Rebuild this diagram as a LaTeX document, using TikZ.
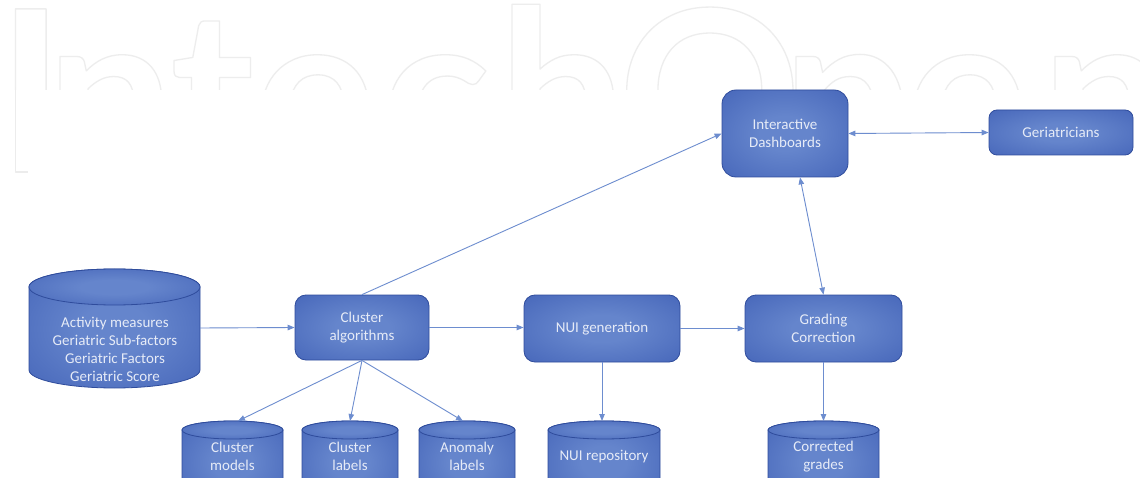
\documentclass[tikz,border=0pt]{standalone}
\usepackage{fontspec}
\setmainfont{Carlito}
\newfontfamily\wmfont{Lato}
\usetikzlibrary{arrows.meta}
\definecolor{boxlight}{HTML}{6585CC}
\definecolor{boxdark}{HTML}{3D5DB4}
\definecolor{boxline}{HTML}{2F4C9C}
\definecolor{linkcol}{HTML}{6D8DCF}
\definecolor{txtcol}{HTML}{E6EBF7}
\definecolor{wmgray}{HTML}{ECECEC}
\pgfdeclareradialshading{boxshade}{\pgfpoint{0bp}{0bp}}{color(0bp)=(boxlight); color(10bp)=(boxlight); color(45bp)=(boxdark); color(100bp)=(boxdark)}
\newcommand\wmout[1]{\special{pdf:literal direct 1 Tr 0.93 G 1.3 w 1 j}#1\special{pdf:literal direct 0 Tr}}
\newcommand\drawcyl[5]{%
  \shade[shading=boxshade, draw=boxline, line width=0.8pt]
    (#1-#2,#3) -- (#1-#2,#4) arc[start angle=180,end angle=0,x radius=#2,y radius=#5]
    -- (#1+#2,#3) arc[start angle=0,end angle=-180,x radius=#2,y radius=#5] -- cycle;
  \shade[shading=boxshade, draw=boxline, line width=0.8pt] (#1,#3) ellipse[x radius=#2, y radius=#5];
}
\begin{document}
\begin{tikzpicture}[x=1pt,y=-1pt,
  procbox/.style={rectangle, rounded corners=11pt, draw=boxline, line width=0.8pt,
    shading=boxshade, text=txtcol, align=center, inner sep=0pt,
    font=\fontsize{15}{18}\selectfont},
  cyltext/.style={text=txtcol, align=center, inner sep=0pt, font=\fontsize{15}{18}\selectfont},
  cylarea/.style={rectangle, inner sep=0pt},
  link/.style={draw=linkcol, line width=0.9pt, -{Triangle[length=7pt,width=5.5pt]}},
  dlink/.style={draw=linkcol, line width=0.9pt, {Triangle[length=7pt,width=5.5pt]}-{Triangle[length=7pt,width=5.5pt]}},
  wm/.style={anchor=base west, inner sep=0pt, text=wmgray, font=\wmfont\bfseries\fontsize{227}{227}\selectfont},
  wmline/.style={draw=wmgray, line width=1.3pt, line join=round}]
\useasboundingbox (0,0) rectangle (1140,478);
\fill[white] (0,0) rectangle (1140,478);
\clip (0,0) rectangle (1140,478);

% watermark
\begin{scope}
  \clip (0,0) rectangle (1140,90);
  \node[wm] (wm1) at (-3,173) {\wmout{I}};
  \node[wm] (wm2) at (46,173) {\wmout{n}};
  \node[wm] (wm3) at (170,173) {\wmout{t}};
  \node[wm] (wm4) at (254,173) {\wmout{e}};
  \node[wm] (wm5) at (381,173) {\wmout{c}};
  \node[wm] (wm6) at (498,173) {\wmout{h}};
  \node[wm] (wm7) at (618,173) {\wmout{O}};
  \node[wm] (wm8) at (782,173) {\wmout{p}};
  \node[wm] (wm9) at (906,173) {\wmout{e}};
  \node[wm] (wm10) at (1041,173) {\wmout{n}};
\end{scope}
\draw[wmline] (15.5,88) -- (15.5,172) -- (28,172);

% cylinders
\drawcyl{114.5}{85.5}{287}{370}{18}
\drawcyl{232.5}{50.5}{430}{495}{9}
\drawcyl{350}{48}{430}{495}{9}
\drawcyl{467}{48}{430}{495}{9}
\drawcyl{604}{56}{430}{495}{9}
\drawcyl{823.5}{55.5}{430}{495}{9}

\node[cylarea, minimum width=171pt, minimum height=100pt] (db) at (114.5,328) {};
\node[cyltext] (dbtext) at (115,349) {Activity measures\\Geriatric Sub-factors\\Geriatric Factors\\Geriatric Score};
\node[cyltext] (cm) at (232.5,456.5) {Cluster\\models};
\node[cyltext] (cl) at (350,456.5) {Cluster\\labels};
\node[cyltext] (al) at (467,456.5) {Anomaly\\labels};
\node[cyltext] (nr) at (604,457) {NUI repository};
\node[cyltext] (cg) at (823.5,456.5) {Corrected\\grades};
\coordinate (cm-top) at (238,421);
\coordinate (cl-top) at (350,421);
\coordinate (al-top) at (463,421);
\coordinate (nr-top) at (602,421);
\coordinate (cg-top) at (823.5,421);

% process boxes
\node[procbox, minimum width=126pt, minimum height=87pt, rounded corners=14pt] (id) at (785,133.5) {Interactive\\Dashboards};
\node[procbox, minimum width=144pt, minimum height=45pt, rounded corners=8pt] (ger) at (1061,132.5) {Geriatricians};
\node[procbox, minimum width=134pt, minimum height=65pt] (ca) at (362,327.5) {Cluster\\algorithms};
\node[procbox, minimum width=156pt, minimum height=67pt] (nui) at (602,328.5) {NUI generation};
\node[procbox, minimum width=157pt, minimum height=67pt] (gc) at (823.5,328.5) {Grading\\Correction};

% connectors
\draw[link] (db.east) -- (ca.west);
\draw[link] (ca.north) -- (id.west);
\draw[link] (ca.east) -- (ca.east -| nui.west);
\draw[link] (nui.east) -- (gc.west);
\draw[dlink] (id.east) -- (ger.west);
\draw[dlink] (gc.north) -- ([xshift=15pt]id.south);
\draw[link] (ca.south) -- (cm-top);
\draw[link] (ca.south) -- (cl-top);
\draw[link] (ca.south) -- (al-top);
\draw[link] (nui.south) -- (nr-top);
\draw[link] (gc.south) -- (cg-top);
\end{tikzpicture}
\end{document}
